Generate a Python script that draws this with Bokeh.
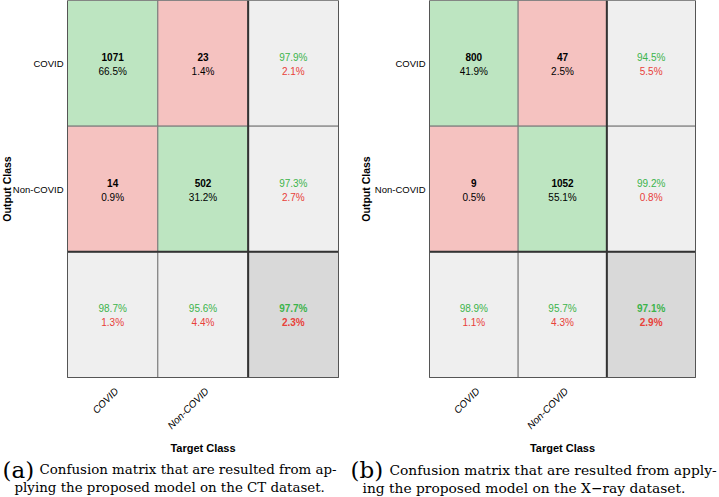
import numpy as np
from bokeh.plotting import figure
from bokeh.layouts import row, column
from bokeh.models import Range1d, Label, ColumnDataSource
from bokeh.core.properties import value
from bokeh.embed import file_html
from bokeh.resources import INLINE

# ---------------- data ----------------
classes = ["COVID", "Non-COVID"]

ct_counts = [[1071, 23], [14, 502]]
ct_pct = [[66.5, 1.4], [0.9, 31.2]]
ct_row_acc = [97.9, 97.3]
ct_row_err = [2.1, 2.7]
ct_col_acc = [98.7, 95.6]
ct_col_err = [1.3, 4.4]
ct_total = [97.7, 2.3]

xr_counts = [[800, 47], [9, 1052]]
xr_pct = [[41.9, 2.5], [0.5, 55.1]]
xr_row_acc = [94.5, 99.2]
xr_row_err = [5.5, 0.8]
xr_col_acc = [98.9, 95.7]
xr_col_err = [1.1, 4.3]
xr_total = [97.1, 2.9]

x_title = "Target Class"
y_title = "Output Class"

cap_a = ["(a)", "Confusion matrix that are resulted from ap-",
         "plying the proposed model on the CT dataset."]
cap_b = ["(b)", "Confusion matrix that are resulted from apply-",
         "ing the proposed model on the X\u2212ray dataset."]

# ---------------- styles ----------------
SANS = "Liberation Sans"
SERIF = "DejaVu Serif"
GREEN = "#bde5c1"
RED = "#f5c2c0"
GRAY = "#efefef"
DGRAY = "#d9d9d9"
TGREEN = "#3cb44b"
TRED = "#e8413a"
H = 455          # height of the matrix panel
MAT_H = 377      # pixel height of the matrix itself
CAP_H = 42


def make_matrix(counts, pct, row_acc, row_err, col_acc, col_err, total,
                width, left_px, right_px, ytitle_px):
    xs, ys, fills, t1, t2, c1, c2, s1, s2 = [], [], [], [], [], [], [], [], []
    n = len(classes)
    for i in range(n):
        for j in range(n):
            xs.append(j + 0.5); ys.append(i + 0.5)
            fills.append(GREEN if i == j else RED)
            t1.append(str(counts[i][j])); t2.append(f"{pct[i][j]}%")
            c1.append("black"); c2.append("black"); s1.append("bold"); s2.append("normal")
    for i in range(n):
        xs.append(n + 0.5); ys.append(i + 0.5); fills.append(GRAY)
        t1.append(f"{row_acc[i]}%"); t2.append(f"{row_err[i]}%")
        c1.append(TGREEN); c2.append(TRED); s1.append("normal"); s2.append("normal")
    for j in range(n):
        xs.append(j + 0.5); ys.append(n + 0.5); fills.append(GRAY)
        t1.append(f"{col_acc[j]}%"); t2.append(f"{col_err[j]}%")
        c1.append(TGREEN); c2.append(TRED); s1.append("normal"); s2.append("normal")
    xs.append(n + 0.5); ys.append(n + 0.5); fills.append(DGRAY)
    t1.append(f"{total[0]}%"); t2.append(f"{total[1]}%")
    c1.append(TGREEN); c2.append(TRED); s1.append("bold"); s2.append("bold")

    src = ColumnDataSource(dict(x=xs, y=ys, fill=fills, t1=t1, t2=t2, c1=c1, c2=c2, s1=s1, s2=s2))

    # the frame covers the whole panel; the matrix occupies [left_px, right_px] x [0, MAT_H]
    m = n + 1
    ux = m / (right_px - left_px)
    uy = m / MAT_H
    p = figure(width=width, height=H,
               x_range=Range1d(-left_px * ux, m + (width - right_px) * ux),
               y_range=Range1d(H * uy, 0),
               output_backend="svg", toolbar_location=None, min_border=0,
               x_axis_type=None, y_axis_type=None)
    p.rect(x="x", y="y", width=1, height=1, fill_color="fill", line_color="#7a7a7a",
           line_width=1, source=src)
    p.text(x="x", y="y", text="t1", text_color="c1", text_font_style="s1", y_offset=-6,
           text_align="center", text_baseline="middle", text_font_size="10px",
           text_font=value(SANS), source=src)
    p.text(x="x", y="y", text="t2", text_color="c2", text_font_style="s2", y_offset=8,
           text_align="center", text_baseline="middle", text_font_size="10px",
           text_font=value(SANS), source=src)
    # separators between class cells and summary cells
    p.segment(x0=[n, 0], y0=[0, n], x1=[n, m], y1=[m, n],
              line_color="#333333", line_width=2)
    # outer border of the matrix
    p.rect(x=[m / 2], y=[m / 2], width=m, height=m,
           fill_color=None, line_color="#555555", line_width=1)

    # row (output class) labels
    ylab = ColumnDataSource(dict(x=[0] * n, y=[k + 0.5 for k in range(n)], t=classes))
    p.text(x="x", y="y", text="t", x_offset=-4, text_align="right", text_baseline="middle",
           text_font_size="9.5px", text_font=value(SANS), text_color="black", source=ylab)
    p.text(x=[0], y=[m / 2], text=[y_title], x_offset=-ytitle_px, angle=np.pi / 2,
           text_align="center", text_baseline="middle", text_font_size="10.5px",
           text_font_style="bold", text_font=value(SANS), text_color="black")

    # column (target class) labels, rotated
    xlab = ColumnDataSource(dict(x=[k + 0.5 for k in range(n)], y=[m] * n, t=classes))
    p.text(x="x", y="y", text="t", x_offset=4, y_offset=12, angle=np.pi / 4,
           text_align="right", text_baseline="middle", text_font_size="10px",
           text_font_style="italic", text_font=value(SANS), text_color="black", source=xlab)
    p.text(x=[m / 2], y=[m], text=[x_title], y_offset=70,
           text_align="center", text_baseline="middle", text_font_size="11px",
           text_font_style="bold", text_font=value(SANS), text_color="black")

    p.xgrid.grid_line_color = None
    p.ygrid.grid_line_color = None
    p.outline_line_color = None
    p.background_fill_color = "white"
    p.border_fill_color = "white"
    return p


def make_caption(caption, width, xs, size):
    c = figure(width=width, height=CAP_H, x_range=Range1d(0, 1), y_range=Range1d(0, 1),
               output_backend="svg", toolbar_location=None, x_axis_type=None, y_axis_type=None,
               min_border=0)
    c.outline_line_color = None
    c.xgrid.grid_line_color = None
    c.ygrid.grid_line_color = None
    c.add_layout(Label(x=xs[0], y=28, x_units="screen", y_units="screen", text=caption[0],
                       text_font=SERIF, text_font_size="23px", text_baseline="middle",
                       text_color="black"))
    c.add_layout(Label(x=xs[1], y=28, x_units="screen", y_units="screen", text=caption[1],
                       text_font=SERIF, text_font_size=size, text_baseline="middle",
                       text_color="black"))
    c.add_layout(Label(x=xs[2], y=10, x_units="screen", y_units="screen", text=caption[2],
                       text_font=SERIF, text_font_size=size, text_baseline="middle",
                       text_color="black"))
    return c


pa = make_matrix(ct_counts, ct_pct, ct_row_acc, ct_row_err, ct_col_acc, ct_col_err, ct_total,
                 350, 67, 338, 61)
pb = make_matrix(xr_counts, xr_pct, xr_row_acc, xr_row_err, xr_col_acc, xr_col_err, xr_total,
                 369, 79, 345, 64)
ca = make_caption(cap_a, 350, (2, 39, 14), "13.4px")
cb = make_caption(cap_b, 369, (0, 39, 12), "13.8px")

layout = column(row(pa, pb), row(ca, cb))
open("out.html", "w").write(file_html(layout, INLINE))
